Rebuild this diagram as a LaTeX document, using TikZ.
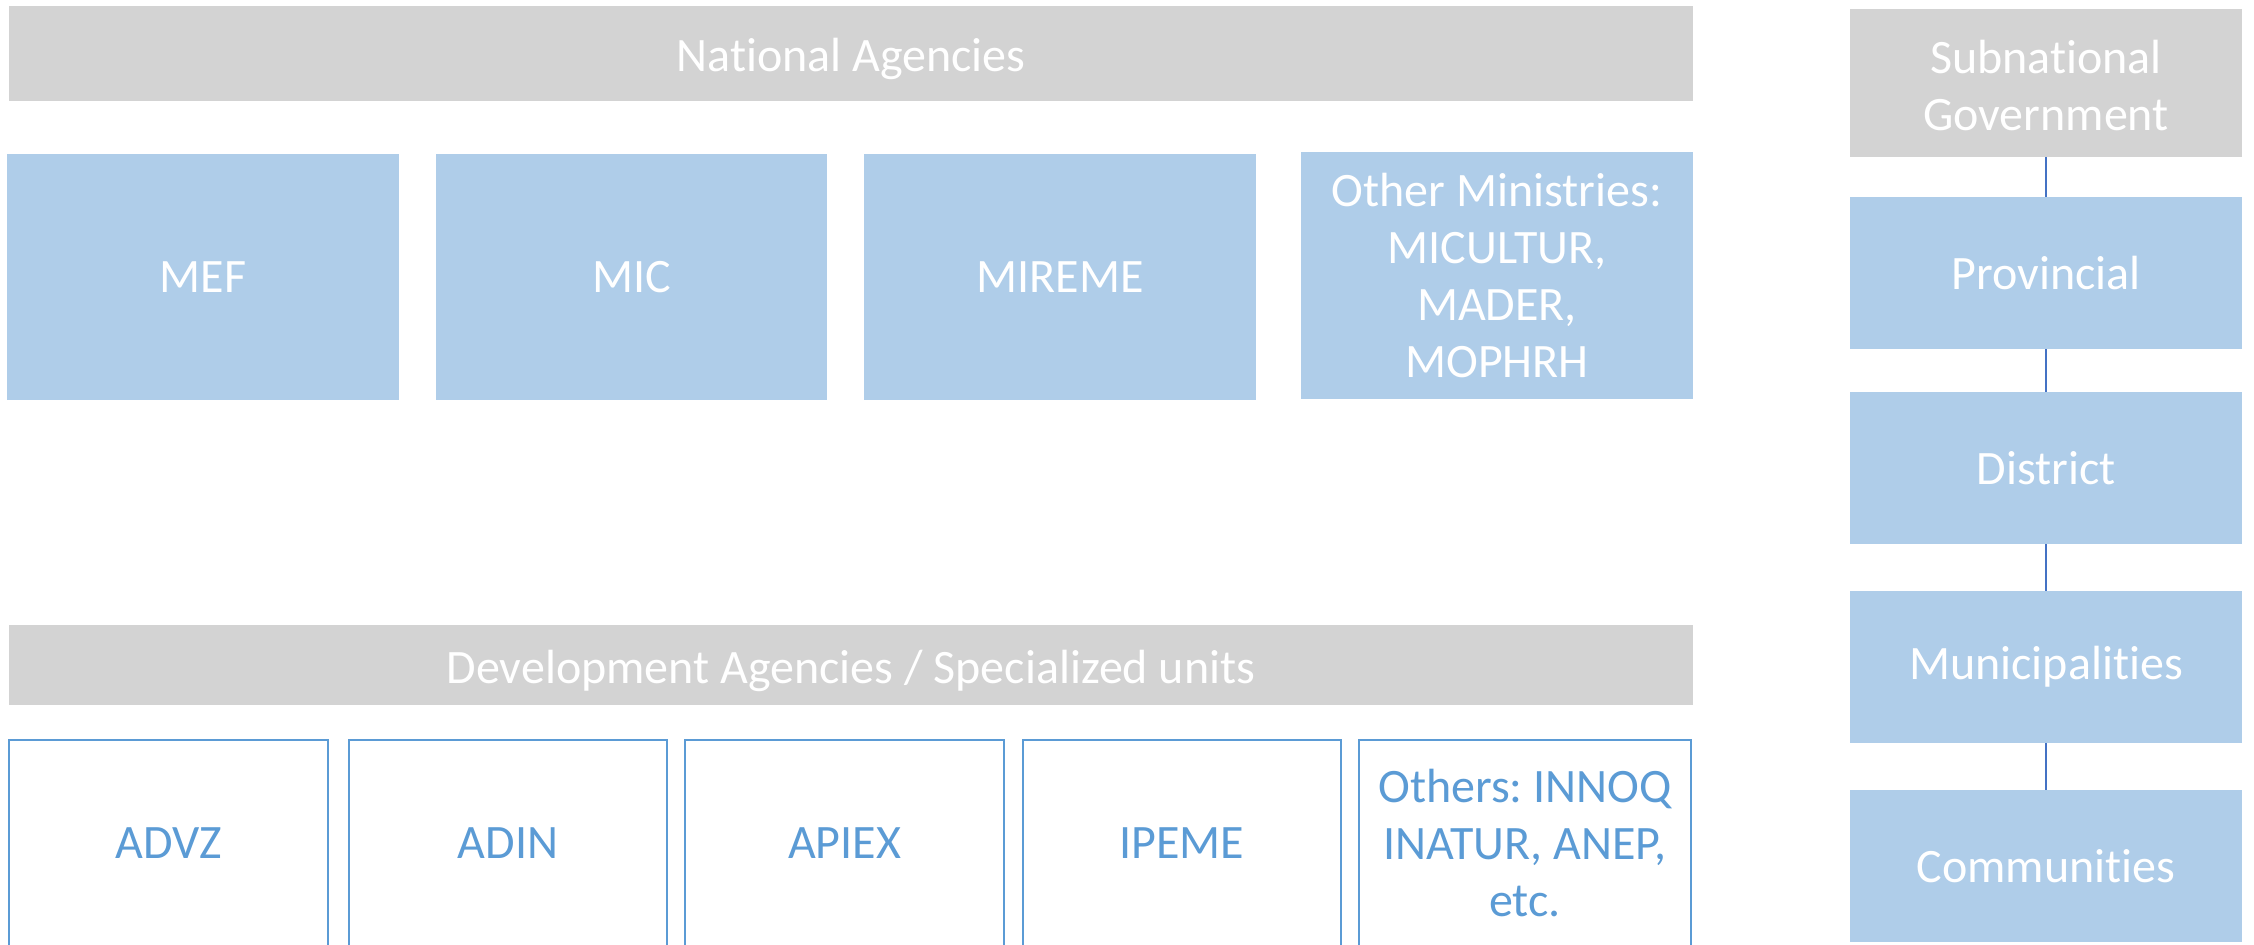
\documentclass[tikz,border=0pt]{standalone}
\usepackage{fontspec}
\setmainfont{Carlito}[Ligatures={NoCommon}]
\definecolor{bargray}{HTML}{D3D3D3}
\definecolor{lightblue}{HTML}{AFCDE9}
\definecolor{edgeblue}{HTML}{5B9BD5}
\definecolor{linkblue}{HTML}{4472C4}
\tikzset{
  base/.style={inner sep=0pt, outer sep=0pt, align=center, anchor=center,
    font=\fontsize{24}{28.5}\selectfont\frenchspacing},
  span/.style n args={4}{at={({(#1+#3)/2},{(#2+#4)/2})},
    minimum width={(#3-#1)*0.5pt}, minimum height={(#4-#2)*0.5pt}},
  graybar/.style={base, fill=bargray, text=white},
  bluebox/.style={base, fill=lightblue, text=white},
  openbox/.style={base, draw=edgeblue, line width=1pt, fill=white, text=edgeblue},
  link/.style={draw=linkblue, line width=0.7pt},
  lowtext/.style={label={[base, text=white]center:#1}}
}
\begin{document}
\begin{tikzpicture}[x=0.5pt,y=-0.5pt]
\useasboundingbox (0,0) rectangle (2254,944);
% National level
\node[graybar, span={9}{6}{1693}{101}] (national) {};
\node[base, text=white, yshift=-2.8pt] (nationaltext) at (national.center) {National Agencies};
\node[bluebox, span={7}{154}{399}{400}] (mef) {MEF};
\node[bluebox, span={436}{154}{827}{400}] (mic) {MIC};
\node[bluebox, span={864}{154}{1256}{400}] (mireme) {MIREME};
\node[bluebox, span={1301}{152}{1693}{399}] (other) {Other Ministries:\\MICULTUR,\\MADER,\\MOPHRH};
% Development agencies
\node[graybar, span={9}{625}{1693}{705}] (dev) {};
\node[base, text=white, yshift=-2.8pt] (devtext) at (dev.center) {Development Agencies / Specialized units};
\node[openbox, span={9}{740}{328}{946}] (advz) {ADVZ};
\node[openbox, span={349}{740}{667}{946}] (adin) {ADIN};
\node[openbox, span={685}{740}{1004}{946}] (apiex) {APIEX};
\node[openbox, span={1023}{740}{1341}{946}] (ipeme) {IPEME};
\node[openbox, span={1359}{740}{1691}{946}] (others) {Others: INNOQ\\INATUR, ANEP,\\etc.};
% Subnational
\node[graybar, span={1850}{9}{2242}{157}] (sub) {};
\node[base, text=white, yshift=-1.2pt] (subtext) at (sub.center) {Subnational\\Government};
\node[bluebox, span={1850}{197}{2242}{349}] (prov) {Provincial};
\node[bluebox, span={1850}{392}{2242}{544}] (dist) {District};
\node[bluebox, span={1850}{591}{2242}{743}] (muni) {Municipalities};
\node[bluebox, span={1850}{790}{2242}{942}] (comm) {Communities};
\draw[link] (sub.south) -- (prov.north);
\draw[link] (prov.south) -- (dist.north);
\draw[link] (dist.south) -- (muni.north);
\draw[link] (muni.south) -- (comm.north);
\end{tikzpicture}
\end{document}
